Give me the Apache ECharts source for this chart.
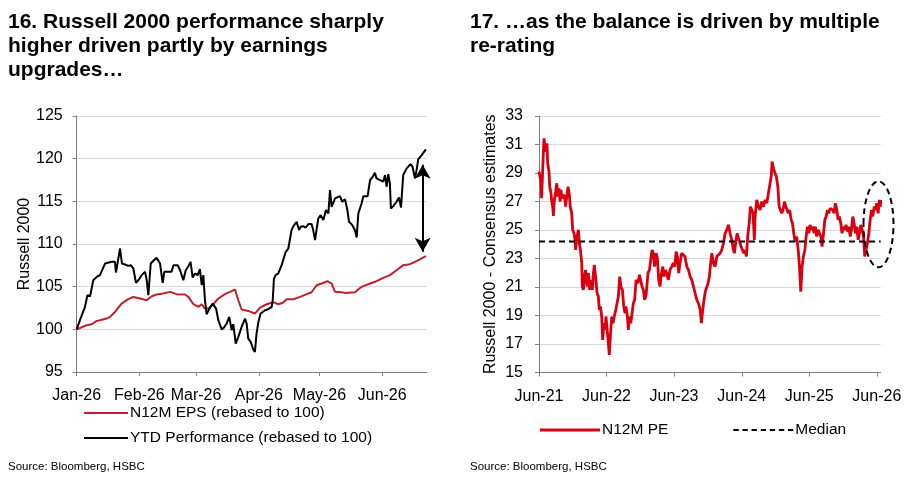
<!DOCTYPE html>
<html>
<head>
<meta charset="utf-8">
<script src="https://cdn.jsdelivr.net/npm/echarts@6/dist/echarts.min.js"></script>
<style>
html,body{margin:0;padding:0;background:#fff;}
#c{width:913px;height:490px;}
</style>
</head>
<body>
<div id="c"></div>
<script>
// ---------- Left chart data (days since 2026-01-01) ----------
const leftStart = '2026-01-01';
const leftEndDay = 173;
const leftTickDates = ['2026-01-01','2026-02-01','2026-03-01','2026-04-01','2026-05-01','2026-06-01'];
const leftTickLabels = ['Jan-26','Feb-26','Mar-26','Apr-26','May-26','Jun-26'];
const leftYTicks = [95, 100, 105, 110, 115, 120, 125];

const epsName = 'N12M EPS (rebased to 100)';
const epsDay = [0,4.9,7.4,9.9,11.5,14.8,16.5,18.9,22.2,25.5,28,31.3,34.6,37.1,39.5,42.8,46.1,49.4,53.5,55.2,57.7,60.1,61.8,63.4,65.1,67.5,70,73.3,75.8,78.2,79.9,81.5,84.8,88.1,90.6,93.9,97.2,99.7,102.1,103.8,107.1,110.4,112.8,116.1,118.6,121.1,123.9,126,127.7,131,132.6,137.5,140.8,145,148.2,150.7,154.8,158.1,161.4,164.7,168,172.6];
const epsVal = [100,100.48,100.6,100.99,101.07,101.26,101.46,102.04,103.02,103.53,103.8,103.61,103.41,103.88,104.08,104.19,104.39,104.12,104.08,103.8,102.94,102.63,102.94,102.43,102.43,102.94,103.61,104.12,104.39,104.66,103.41,102.32,102.16,101.85,102.55,102.94,103.18,102.94,103.14,103.53,103.53,103.8,104.04,104.35,105.17,105.37,105.64,105.37,104.39,104.35,104.27,104.35,104.98,105.37,105.64,105.95,106.35,106.93,107.52,107.64,107.99,108.57];

const ytdName = 'YTD Performance (rebased to 100)';
const ytdDay = [0,1.6,4.1,5.3,6.6,8.2,9.9,11.5,12.4,14,14.5,17.3,18.9,19.4,20.3,21.4,22.4,23.9,25.5,26.7,28,29.3,30.5,32.1,33.8,34.6,35.4,36.6,37.9,39.5,41.2,42.5,43.3,45.3,46.9,47.8,49.9,51.1,52.7,53.9,55.2,56.3,57.3,58.5,59.8,60.9,61.8,62.6,63.4,64.2,65.6,67.2,68.9,70,71.7,72.8,74.1,75.4,76.6,77.4,78.6,79.9,81.5,83.2,84,84.8,86,87.3,88.1,88.9,89.8,90.9,93.1,94.4,96.4,96.9,97.5,98.3,99.6,101.3,102.1,103.3,104.6,105.4,106.2,107.1,108.7,109.9,110.7,112,113.2,114.5,116.1,116.9,117.8,119.4,120.6,121.9,123.2,124.4,125.2,126,127.7,130.1,131.3,132.6,133.8,134.6,136.2,137.5,138.4,139.2,140.8,141.7,143.8,145,146.3,147.4,148.2,149.9,151.5,152.4,153.2,154,154.8,155.3,156.5,158.1,159.3,160.3,161.4,163.1,165,166,167.2,168,168.8,170.5,172.6];
const ytdVal = [100,101.07,102.63,104,103.88,105.76,106.15,106.35,106.35,107.71,107.83,107.91,107.91,106.66,107.91,109.47,107.71,107.6,107.44,107.52,107.13,105.45,105.76,106.35,106.74,105.76,104,107.71,108.03,108.38,107.71,105.45,106.74,106.74,106.74,107.52,107.52,106.93,105.76,106.93,107.4,107.91,106.07,106.54,106.35,107.05,105.17,106.35,103.41,101.77,102.43,103.02,102.43,101.07,99.97,100.21,100.67,101.46,99.89,100.6,98.33,99.11,100.28,101.26,100.67,98.92,98.53,97.62,97.35,99.5,100.87,101.85,102.24,102.32,102.63,103.41,105.95,106.35,106.54,107.52,107.71,109.08,109.47,109.67,111.63,112.09,112.6,111.63,112.02,112.09,111.9,112.33,112.33,111.63,110.45,112.99,113.38,112.8,113.97,113.58,116.32,114.36,115.34,115.61,114.95,115.26,113.97,112.6,112.21,111.63,110.76,113.58,114.75,115.61,115.61,117.49,117.88,118.35,117.69,117.49,117.3,118.08,116.71,118.2,117.1,114.17,114.44,114.95,115.46,114.28,118.08,118.86,119.37,119.06,117.69,118.66,119.92,120.42,121.09];

// double-headed arrow annotation (day, low, high)
const arrowDay = 171;
const arrowLow = 109.1;
const arrowHigh = 119.3;

// ---------- Right chart data (days since 2021-06-01) ----------
const rightStart = '2021-06-01';
const rightEndDay = 1847;
const rightTickDates = ['2021-06-01','2022-06-01','2023-06-01','2024-06-01','2025-06-01','2026-06-01'];
const rightTickLabels = ['Jun-21','Jun-22','Jun-23','Jun-24','Jun-25','Jun-26'];
const rightYTicks = [15,17,19,21,23,25,27,29,31,33];

const peName = 'N12M PE';
const peDay = [0,11,14,22,27,32,38,43,47,54,58,65,68,74,78,83,90,96,101,108,114,119,123,130,137,144,150,157,164,169,177,182,189,195,198,205,213,218,224,231,234,240,245,252,260,267,274,281,288,294,299,306,314,321,326,332,339,344,351,357,362,370,375,380,388,393,400,407,415,422,429,436,443,451,458,465,470,478,483,488,496,503,510,517,525,534,543,550,557,564,571,579,589,597,604,611,618,625,633,640,647,654,662,669,676,683,690,699,708,717,726,734,741,748,755,762,771,780,789,799,808,817,826,835,844,853,862,871,878,885,892,899,907,914,921,926,934,943,952,961,970,979,988,997,1006,1015,1024,1033,1042,1051,1056,1063,1071,1078,1085,1092,1100,1107,1114,1121,1128,1136,1143,1150,1157,1164,1168,1177,1186,1195,1204,1213,1222,1231,1240,1249,1255,1260,1267,1276,1283,1291,1298,1305,1312,1319,1327,1334,1341,1348,1355,1363,1370,1377,1384,1393,1401,1408,1415,1422,1429,1437,1444,1451,1458,1465,1473,1480,1487,1494,1501,1509,1516,1523,1530,1538,1545,1552,1559,1566,1574,1581,1588,1595,1602,1610,1617,1624,1631,1638,1646,1653,1660,1667,1675,1682,1689,1696,1703,1711,1718,1725,1732,1739,1747,1754,1761,1768,1775,1783,1790,1797,1804,1812,1819,1826,1833,1840,1845,1847];
const peVal = [29.1,28.4,27.23,29.91,31.43,30.85,30.5,31.08,29.68,29.1,28.04,27.58,27.11,26.64,25.99,27.11,27.69,28.28,27.34,27.93,26.99,27.81,27.23,27.11,27.46,26.64,27.34,28.04,27.46,26.64,26.17,25.01,24.77,24.3,23.6,24.54,25.01,24.07,23.6,22.67,21.03,20.8,21.73,22.2,21.03,21.97,20.8,21.5,20.8,21.97,22.55,21.73,20.56,20.33,19.4,19.63,18.93,17.29,18.46,17.99,18.93,19.04,17.06,16.24,17.99,18.93,18.46,18.93,19.4,19.51,20.33,21.73,21.03,20.8,19.63,19.16,19.63,18.93,17.99,18.93,18.46,19.16,19.86,20.1,21.5,21.27,21.85,21.97,21.03,20.8,20.1,20.45,21.97,22.2,22.9,23.6,23.37,22.43,23.37,23.02,21.5,21.03,21.97,22.43,21.73,22.2,21.97,21.5,22.2,22.43,22.67,22.43,23.49,23.14,21.97,22.67,23.37,23.49,23.14,22.43,22.2,21.73,21.5,21.03,20.56,20.1,19.86,19.4,18.46,19.4,20.1,20.68,20.8,21.27,21.73,22.43,23.37,22.67,22.43,23.14,23.02,23.37,23.6,24.07,24.77,25.01,25.36,24.77,24.3,23.6,23.37,24.07,24.77,24.42,24.19,23.84,23.6,23.37,23.6,23.14,24.54,25.47,26.64,26.76,26.17,24.3,25.94,27.11,26.64,26.41,26.99,26.64,27.11,26.88,27.58,27.58,28.75,29.8,29.33,28.98,28.75,28.04,26.64,26.41,26.17,26.41,26.99,26.64,26.41,26.17,26.41,25.71,25.47,24.77,24.19,24.54,23.6,22.43,20.68,22.43,23.14,23.6,24.54,25.24,24.77,25.36,25.01,25.24,24.77,25.24,24.54,25.01,24.77,24.54,23.84,24.77,25.71,25.94,26.41,26.17,26.52,26.64,26.41,26.17,26.88,26.41,25.71,25.94,25.47,24.77,25.24,25.01,25.36,24.89,25.24,24.54,25.01,25.94,25.47,24.77,25.24,24.3,24.77,25.36,25.01,24.54,23.14,23.6,24.07,24.77,25.71,26.41,25.94,26.64,26.41,26.88,26.17,27.11,26.64,27.11,27.11];

const medianName = 'Median';
const medianVal = 24.2;

// dashed ellipse annotation (centre day, centre value, radii in px)
const ellipseDay = 1835;
const ellipseVal = 25.4;
const ellipseRx = 15;
const ellipseRy = 43;

// ---------- helpers ----------
const DAY = 86400000;
function ts(s){ const p = s.split('-'); return Date.UTC(+p[0], +p[1]-1, +p[2]); }
const leftT0 = ts(leftStart), rightT0 = ts(rightStart);
const toPts = (t0, days, vals) => days.map((d, i) => [t0 + d * DAY, vals[i]]);
const leftTickTs = leftTickDates.map(ts);
const rightTickTs = rightTickDates.map(ts);

const FONT = '"Liberation Sans", Arial, sans-serif';
const gridColor = '#d9d9d9';
const axisColor = '#7f7f7f';
const leftRed = '#c41e2c';
const rightRed = '#d9000f';
const solidIcon = 'path://M0,0H60V3H0Z';
const dashIcon = 'path://M0,0H5V2H0Z M8.5,0H13.5V2H8.5Z M17,0H22V2H17Z M25.5,0H30.5V2H25.5Z M34,0H39V2H34Z M42.5,0H47.5V2H42.5Z M51,0H56V2H51Z';

const chart = echarts.init(document.getElementById('c'), null, {renderer: 'canvas'});

function xAxisCfg(gridIndex, min, max, tickTs, tickLabels){
  return {
    type: 'value', gridIndex: gridIndex, min: min, max: max, scale: true,
    axisLine: {show: true, onZero: false, lineStyle: {color: axisColor, width: 1}},
    axisTick: {show: true, length: 4, lineStyle: {color: axisColor}, customValues: tickTs},
    axisLabel: {
      customValues: tickTs, margin: 16, color: '#000', fontFamily: FONT, fontSize: 16,
      hideOverlap: false, showMinLabel: true, showMaxLabel: true,
      formatter: function(v){
        let best = -1, bd = Infinity;
        tickTs.forEach((t, i) => { const d = Math.abs(t - v); if (d < bd) { bd = d; best = i; } });
        return bd < DAY ? tickLabels[best] : '';
      }
    },
    splitLine: {show: false}
  };
}
function yAxisCfg(gridIndex, ticks, name, nameGap, margin){
  return {
    type: 'value', gridIndex: gridIndex,
    min: ticks[0], max: ticks[ticks.length-1], interval: ticks[1]-ticks[0],
    name: name, nameLocation: 'middle', nameGap: nameGap,
    nameTextStyle: {color: '#000', fontFamily: FONT, fontSize: 16},
    axisLine: {show: true, lineStyle: {color: axisColor, width: 1}},
    axisTick: {show: true, length: 4, lineStyle: {color: axisColor}},
    axisLabel: {color: '#000', fontFamily: FONT, fontSize: 16, margin: margin},
    splitLine: {show: true, lineStyle: {color: gridColor, width: 1}}
  };
}

const titleStyle = {fontFamily: FONT, fontWeight: 'bold', fontSize: 21, lineHeight: 24, color: '#000'};
const srcStyle = {fontFamily: FONT, fontWeight: 'normal', fontSize: 11.5, color: '#000'};
const legendText = {fontFamily: FONT, fontSize: 15.5, color: '#000', padding: [0,0,0,-3]};

const option = {
  animation: false,
  backgroundColor: '#fff',
  title: [
    {text: '16. Russell 2000 performance sharply\nhigher driven partly by earnings\nupgrades…', left: 8, top: 10, padding: 0, textStyle: titleStyle},
    {text: '17. …as the balance is driven by multiple\nre-rating', left: 470, top: 10, padding: 0, textStyle: titleStyle},
    {text: 'Source: Bloomberg, HSBC', left: 8, top: 461, padding: 0, textStyle: srcStyle},
    {text: 'Source: Bloomberg, HSBC', left: 470, top: 461, padding: 0, textStyle: srcStyle}
  ],
  legend: [
    {data: [{name: epsName, icon: solidIcon}, {name: ytdName, icon: solidIcon}],
     orient: 'vertical', left: 79, top: 400, itemWidth: 44, itemHeight: 2.5, itemGap: 9, padding: 5,
     textStyle: legendText},
    {data: [{name: peName, icon: solidIcon}, {name: medianName, icon: dashIcon}],
     orient: 'horizontal', left: 535, top: 417, itemWidth: 60, itemHeight: 3, itemGap: 65, padding: 5,
     textStyle: legendText}
  ],
  grid: [
    {left: 76.7, top: 116, width: 350, height: 256, containLabel: false},
    {left: 539, top: 116, width: 341.7, height: 256.5, containLabel: false}
  ],
  xAxis: [
    xAxisCfg(0, leftT0, leftT0 + leftEndDay * DAY, leftTickTs, leftTickLabels),
    xAxisCfg(1, rightT0, rightT0 + rightEndDay * DAY, rightTickTs, rightTickLabels)
  ],
  yAxis: [
    yAxisCfg(0, leftYTicks, 'Russell 2000', 44, 14),
    yAxisCfg(1, rightYTicks, 'Russell 2000 - Consensus estimates', 40, 16)
  ],
  series: [
    {name: epsName, type: 'line', xAxisIndex: 0, yAxisIndex: 0, symbol: 'none', z: 3,
     lineStyle: {color: leftRed, width: 2}, itemStyle: {color: leftRed},
     data: toPts(leftT0, epsDay, epsVal)},
    {name: ytdName, type: 'line', xAxisIndex: 0, yAxisIndex: 0, symbol: 'none', z: 4,
     lineStyle: {color: '#000', width: 2}, itemStyle: {color: '#000'},
     data: toPts(leftT0, ytdDay, ytdVal),
     markLine: {
       silent: true, symbol: ['arrow', 'arrow'], symbolSize: [12, 14], label: {show: false},
       lineStyle: {color: '#000', width: 2, type: 'solid'},
       data: [[{coord: [leftT0 + arrowDay * DAY, arrowLow]}, {coord: [leftT0 + arrowDay * DAY, arrowHigh]}]]
     }},
    {name: peName, type: 'line', xAxisIndex: 1, yAxisIndex: 1, symbol: 'none', z: 3,
     lineStyle: {color: rightRed, width: 2.8}, itemStyle: {color: rightRed},
     data: toPts(rightT0, peDay, peVal)},
    {name: medianName, type: 'line', xAxisIndex: 1, yAxisIndex: 1, symbol: 'none', z: 4,
     lineStyle: {color: '#000', width: 2, type: [6, 4]}, itemStyle: {color: '#000'},
     data: [[rightT0 + peDay[0] * DAY, medianVal], [rightT0 + peDay[peDay.length-1] * DAY, medianVal]]}
  ]
};
chart.setOption(option);

const c = chart.convertToPixel({xAxisIndex: 1, yAxisIndex: 1}, [rightT0 + ellipseDay * DAY, ellipseVal]);
chart.setOption({
  graphic: [{
    type: 'ellipse', silent: true, z: 10,
    shape: {cx: c[0], cy: c[1], rx: ellipseRx, ry: ellipseRy},
    style: {fill: 'none', stroke: '#000', lineWidth: 2, lineDash: [6, 4]}
  }]
});
</script>
</body>
</html>
